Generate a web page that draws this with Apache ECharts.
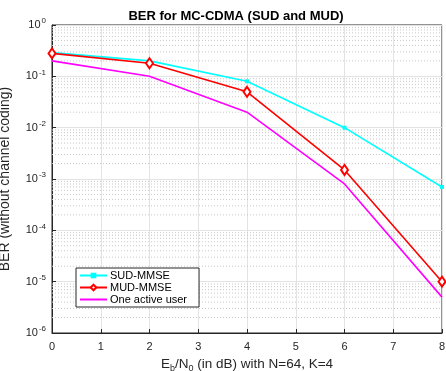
<!DOCTYPE html>
<html><head><meta charset="utf-8">
<script src="https://cdn.jsdelivr.net/npm/echarts@6/dist/echarts.min.js"></script>
<style>html,body{margin:0;padding:0;background:#fff}#c{width:446px;height:371px}</style>
</head><body><div id="c"></div>
<script>
const ebn0 = [0, 2, 4, 6, 8];
const sudMmse = [0.29, 0.2, 0.08, 0.01, 0.0007];
const mudMmse = [0.28, 0.18, 0.05, 0.0015, 0.00001];
const oneUser = [0.2, 0.1, 0.02, 0.0008, 0.000005];
const xTicks = [0,1,2,3,4,5,6,7,8];
const yExps = [0,-1,-2,-3,-4,-5,-6];

const minorVals = [];
for (let e = -6; e < 0; e++) for (let m = 2; m <= 9; m++) minorVals.push(m * Math.pow(10, e));

const F = '"Liberation Sans", Arial, sans-serif';
const chart = echarts.init(document.getElementById('c'), null, {renderer:'canvas'});
const pair = (ys) => ebn0.map((x,i)=>[x, ys[i]]);
const minorSeries = minorVals.map(v => ({
  type:'line', name:'_m'+v, data:[[xTicks[0], v],[xTicks[xTicks.length-1], v]], silent:true, z:1,
  symbol:'none', lineStyle:{type:[1,2], color:'#c8c8c8', width:1}, tooltip:{show:false}
}));
chart.setOption({
  animation:false,
  backgroundColor:'#fff',
  title:{text:'BER for MC-CDMA (SUD and MUD)', left:231, top:5, textAlign:'center',
    textStyle:{fontFamily:F, fontSize:13, fontWeight:'bold', color:'#000'}},
  grid:{left:52, right:4, top:25, bottom:38, show:true, borderColor:'#262626', borderWidth:1, backgroundColor:'#fff',
    containLabel:false, outerBoundsMode:'none'},
  legend:{left:76, top:268, orient:'vertical', itemGap:1, itemWidth:27, itemHeight:7,
    backgroundColor:'#fff', borderColor:'#262626', borderWidth:1, padding:[2,12,2,3],
    textStyle:{fontFamily:F, fontSize:11, color:'#000', padding:[0,0,0,-2]},
    data:[{name:'SUD-MMSE'},{name:'MUD-MMSE'},
      {name:'One active user', itemStyle:{color:'rgba(0,0,0,0)', borderColor:'rgba(0,0,0,0)', borderWidth:0}}]},
  xAxis:{type:'value', min:0, max:8, interval:1, nameMoveOverlap:false,
    name:'{n|E}{s|b}{n|/N}{s|0}{n| (in dB) with N=64, K=4}', nameLocation:'middle', nameGap:22,
    nameTextStyle:{rich:{n:{fontFamily:F,fontSize:13.5,color:'#262626'}, s:{fontFamily:F,fontSize:9,color:'#262626',verticalAlign:'bottom',padding:[9,0,0,0]}}},
    axisLine:{show:true, lineStyle:{color:'#262626'}},
    axisTick:{inside:true, length:4, lineStyle:{color:'#262626'}},
    axisLabel:{fontFamily:F, fontSize:11, color:'#262626', margin:8},
    splitLine:{show:true, lineStyle:{color:'#e3e3e3', width:1}}},
  yAxis:{type:'log', logBase:10, min:1e-6, max:1, interval:1, nameMoveOverlap:false,
    name:'BER (without channel coding)', nameLocation:'middle', nameGap:40,
    nameTextStyle:{fontFamily:F, fontSize:14, color:'#262626'},
    axisLine:{show:true, lineStyle:{color:'#262626'}},
    axisTick:{inside:true, length:4, lineStyle:{color:'#262626'}},
    axisLabel:{margin:6, formatter:(v)=>{const e=Math.round(Math.log10(v)); return '{b|10}{s|'+(e===0?'0':('-'+(-e)))+'}';},
      rich:{b:{fontFamily:F,fontSize:11,color:'#262626'}, s:{fontFamily:F,fontSize:8,color:'#262626',verticalAlign:'top',padding:[0,0,8,1]}}},
    splitLine:{show:true, lineStyle:{color:'#e3e3e3', width:1}}},
  series: minorSeries.concat([
    {type:'line', name:'One active user', data:pair(oneUser), color:'#ff00ff', showSymbol:false, symbol:'none',
     lineStyle:{width:1.6, color:'#ff00ff'}, z:3},
    {type:'line', name:'SUD-MMSE', data:pair(sudMmse), color:'#00ffff', symbol:'rect', symbolSize:4,
     itemStyle:{color:'#00ffff'}, lineStyle:{width:1.6, color:'#00ffff'}, z:4},
    {type:'line', name:'MUD-MMSE', data:pair(mudMmse), color:'#ff0000', symbol:'emptyDiamond', symbolSize:[7,10],
     itemStyle:{color:'#ff0000', borderColor:'#ff0000', borderWidth:2}, lineStyle:{width:1.6, color:'#ff0000'}, z:5}
  ])
});
</script></body></html>
